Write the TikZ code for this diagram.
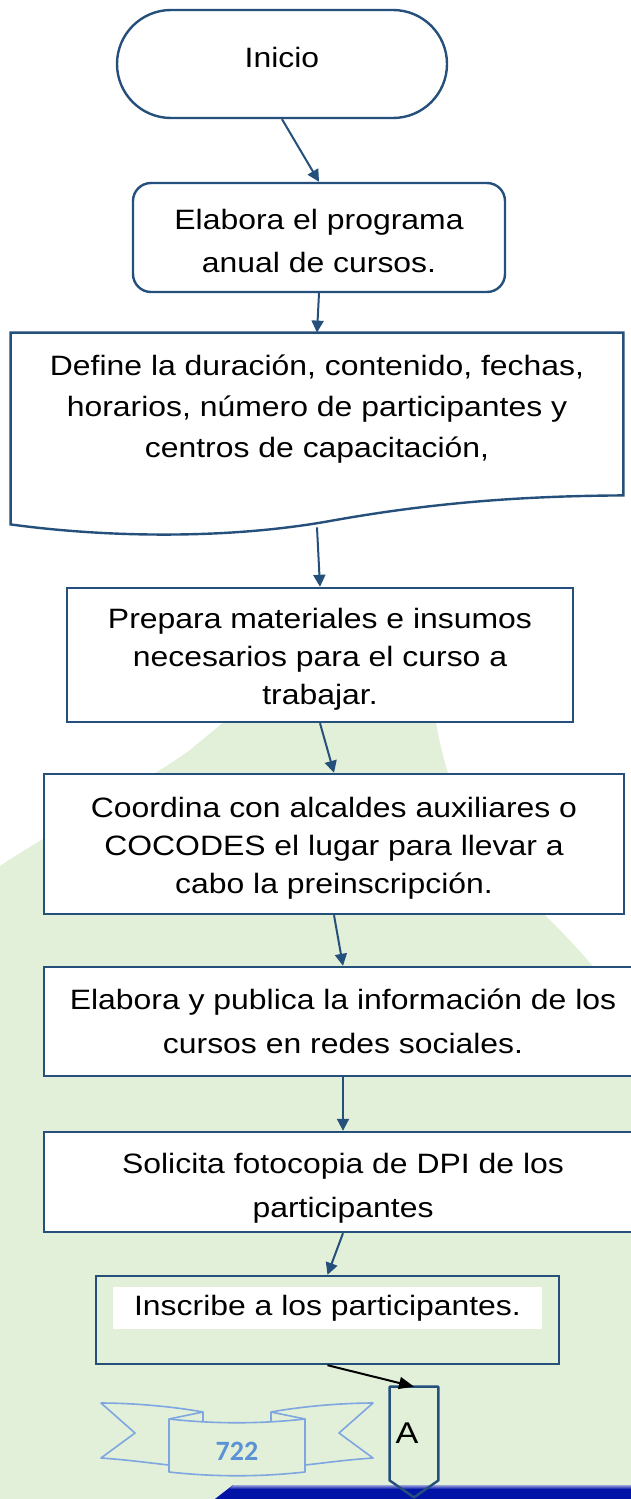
\documentclass[tikz,border=0pt]{standalone}
\usepackage{fontspec}
\setmainfont{Liberation Sans}[FakeStretch=1.14]
\newfontfamily\ribbonfont{Carlito}
\usepackage{xcolor}
\usepackage{tikz}
\usetikzlibrary{arrows.meta,shapes.misc}

\definecolor{flowblue}{RGB}{37,80,124}
\definecolor{leafgreen}{RGB}{226,240,217}
\definecolor{ribbonblue}{RGB}{126,166,224}
\definecolor{numblue}{RGB}{91,146,214}
\definecolor{barblue}{RGB}{2,20,168}

\begin{document}
\begin{tikzpicture}[x=0.5pt,y=-0.5pt,
  lines/.style={font=\fontsize{14pt}{#1}\selectfont},
  procbox/.style={draw=flowblue, line width=1.2pt, fill=white, align=center, inner sep=0pt},
  flow/.style={draw=flowblue, line width=1pt, -{Triangle[length=6pt,width=6pt]}},
  ribbon/.style={draw=ribbonblue, line width=0.8pt, line join=round}]

\useasboundingbox (0,0) rectangle (631,1499);
\fill[white] (0,0) rectangle (631,1499);

\fill[leafgreen] (0,866) .. controls (60,826) and (140,786) .. (190,750) -- (255,696)
  -- (432,696) .. controls (445,800) and (480,860) .. (543,913)
  .. controls (560,930) and (580,950) .. (600,975) -- (640,1020) -- (640,1499) -- (0,1499) -- cycle;

\fill[barblue] (233,1485) -- (640,1485) -- (640,1502) -- (211,1502) -- cycle;
\shade[top color=barblue!40!white, bottom color=barblue] (233,1485) -- (640,1485) -- (640,1489) -- (229,1489) -- cycle;

\draw[ribbon] (203,1412) .. controls (170,1406) and (130,1403) .. (101,1403) -- (135,1433) -- (101,1458)
  .. controls (130,1460) and (150,1463) .. (169,1465);
\draw[ribbon] (169,1419) -- (203,1412) -- (203,1421);
\draw[ribbon] (271,1412) .. controls (304,1406) and (344,1403) .. (373,1403) -- (339,1433) -- (373,1458)
  .. controls (344,1460) and (324,1463) .. (305,1465);
\draw[ribbon] (305,1419) -- (271,1412) -- (271,1421);
\draw[ribbon] (169,1419) .. controls (215,1424) and (259,1424) .. (305,1419) -- (305,1472)
  .. controls (259,1477) and (215,1477) .. (169,1472) -- cycle;
\node[font=\ribbonfont\bfseries\fontsize{14pt}{14pt}\selectfont, text=numblue] (pagenum) at (237,1451) {722};

\node[procbox, rounded rectangle, minimum width=165pt, minimum height=54pt,
  label={[lines=20pt, yshift=3.5pt]center:Inicio}] (inicio) at (282,64) {};

\node[procbox, rounded corners=9pt, minimum width=186pt, minimum height=54.5pt, lines=21.5pt, text height=34.8pt]
  (elabora) at (319,237.5) {Elabora el programa\\anual de cursos.};

\node[inner sep=0pt, minimum width=306pt, minimum height=81pt,
  label={[lines=20.5pt, align=center, yshift=2.5pt]center:{Define la duración, contenido, fechas,\\horarios, número de participantes y\\centros de capacitación,}}]
  (define) at (317,414) {};
\draw[flowblue, line width=1.2pt] (define.north west) -- (define.north east) -- (define.south east)
  .. controls (520,496) and (430,503) .. (330,521) .. controls (230,539) and (110,538) .. ([yshift=-14.5pt]define.south west) -- cycle;

\node[procbox, minimum width=253pt, minimum height=67pt, lines=19pt, text height=52.8pt]
  (prepara) at (320,655) {Prepara materiales e insumos\\necesarios para el curso a\\trabajar.};

\node[procbox, minimum width=290pt, minimum height=70pt, lines=19pt, text height=52.3pt]
  (coordina) at (334,844) {Coordina con alcaldes auxiliares o\\COCODES el lugar para llevar a\\cabo la preinscripción.};

\node[procbox, minimum width=299pt, minimum height=54.5pt, lines=22pt]
  (publica) at (343,1021.5) {Elabora y publica la información de los\\cursos en redes sociales.};

\node[procbox, minimum width=299pt, minimum height=50pt, lines=22pt, text height=38.3pt]
  (solicita) at (343,1182) {Solicita fotocopia de DPI de los\\participantes};

\node[procbox, fill=none, minimum width=231.5pt, minimum height=44pt] (inscribe) at (327.5,1320) {};
\node[fill=white, inner sep=0pt, minimum width=214.5pt, minimum height=21pt, lines=20pt]
  (inscribetxt) at (327.5,1308) {Inscribe a los participantes.};

\node[inner sep=0pt, minimum width=24pt, minimum height=46.5pt,
  label={[font=\fontsize{15pt}{15pt}\selectfont, xshift=-3.5pt]center:A}] (conA) at (414,1433.5) {};
\draw[flowblue, line width=1.2pt, line join=round] (conA.south west) -- (conA.north west) -- (conA.north east)
  -- (conA.south east) -- ([yshift=-8.5pt]conA.south) -- cycle;

\draw[flow] (inicio.south) -- (elabora.north);
\draw[flow] (elabora.south) -- (define.north);
\draw[flow] ([yshift=-16pt]define.south) -- (prepara.north);
\draw[flow] (prepara.south) -- (coordina.north);
\draw[flow] (coordina.south) -- (publica.north);
\draw[flow] (publica.south) -- (solicita.north);
\draw[flow] (solicita.south) -- (inscribe.north);
\draw[black, line width=1pt, -{Triangle[length=7.5pt,width=6pt]}] (inscribe.south) -- (conA.north);

\end{tikzpicture}
\end{document}
